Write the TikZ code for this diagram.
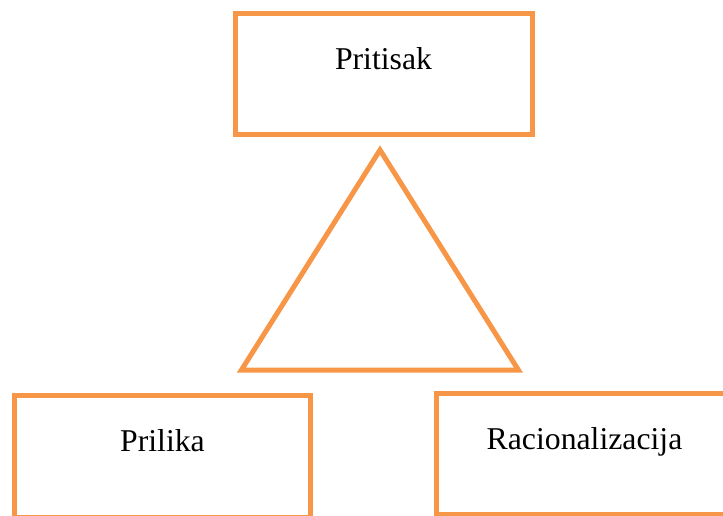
\documentclass[tikz,border=0pt]{standalone}
\usepackage{fontspec}
\setmainfont{Liberation Serif}
\definecolor{accent}{HTML}{F79646}
\tikzset{
  box/.style={draw=accent, line width=3.75pt, inner sep=0pt, outer sep=0pt, rectangle, fill=white},
  txt/.style={anchor=base, inner sep=0pt, font=\fontsize{23.8}{28}\selectfont, text=black},
  tri/.style={draw=accent, line width=3.75pt, line join=miter}
}
\begin{document}
\begin{tikzpicture}[x=0.75pt, y=-0.75pt]
\useasboundingbox (0,0) rectangle (723,515);
\node[box, minimum width=223.1pt, minimum height=90.75pt] (topbox) at (383.75,74) {};
\node[box, minimum width=222.5pt, minimum height=90.9pt] (leftbox) at (162.5,456.4) {};
\node[box, minimum width=222.4pt, minimum height=90.15pt] (rightbox) at (584.75,453.9) {};
\node[txt] (pritisak) at (383.5,69) {Pritisak};
\node[txt] (prilika) at (162.5,451.7) {Prilika};
\node[txt] (racio) at (584.5,449.3) {Racionalizacija};
\coordinate (apex) at (380,150);
\coordinate (bl) at (241.3,370.2);
\coordinate (br) at (518.5,370.2);
\draw[tri] (apex) -- (bl) -- (br) -- cycle;
\end{tikzpicture}
\end{document}
